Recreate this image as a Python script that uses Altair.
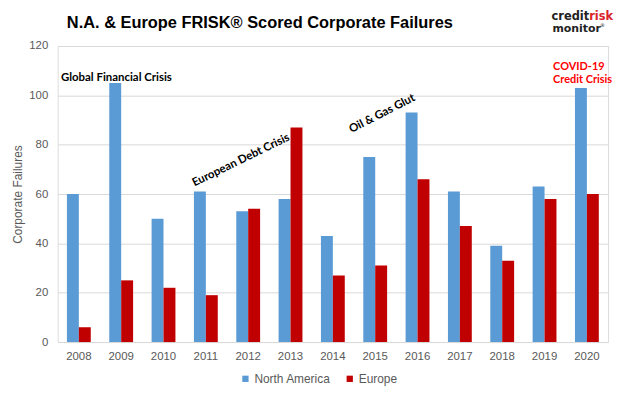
import altair as alt
import pandas as pd

years = [str(y) for y in range(2008, 2021)]
north_america = [60, 105, 50, 61, 53, 58, 43, 75, 93, 61, 39, 63, 103]
europe = [6, 25, 22, 19, 54, 87, 27, 31, 66, 47, 33, 58, 60]
series_names = ["North America", "Europe"]
series_colors = ["#5B9BD5", "#C00000"]
y_ticks = [0, 20, 40, 60, 80, 100, 120]

title_text = "N.A. & Europe FRISK® Scored Corporate Failures"
y_title = "Corporate Failures"

rows = []
for i, yr in enumerate(years):
    rows.append({"year": yr, "series": series_names[0], "value": north_america[i]})
    rows.append({"year": yr, "series": series_names[1], "value": europe[i]})
df = pd.DataFrame(rows)

x_enc = alt.X("year:N", sort=years, title=None,
              scale=alt.Scale(paddingInner=0.437, paddingOuter=0.2185),
              axis=alt.Axis(labelAngle=0, ticks=False, domain=False, labelPadding=9,
                            labelFontSize=11.5, labelColor="#595959",
                            labelFont="Liberation Sans"))
y_enc = alt.Y("value:Q", title=y_title,
              scale=alt.Scale(domain=[0, 120], nice=False, zero=True),
              axis=alt.Axis(values=y_ticks, ticks=False, domain=False, labelPadding=10,
                            gridColor="#D9D9D9", labelFontSize=11.5, labelColor="#595959",
                            labelFont="Liberation Sans", titleFont="Liberation Sans",
                            titleFontSize=12, titleFontWeight="normal", titleColor="#595959",
                            titlePadding=4))

bars = alt.Chart(df).mark_bar().encode(
    x=x_enc,
    xOffset=alt.XOffset("series:N", sort=series_names),
    y=y_enc,
    color=alt.Color("series:N", sort=series_names,
                    scale=alt.Scale(domain=series_names, range=series_colors),
                    legend=alt.Legend(title=None, orient="none", direction="horizontal",
                                      legendX=183, legendY=329, symbolType="square",
                                      symbolSize=40, symbolStrokeWidth=0, labelOffset=3,
                                      columnPadding=13, labelFontSize=12,
                                      labelColor="#595959", labelFont="Liberation Sans")),
)

# annotations
ann_df = pd.DataFrame({
    "label": ["Global Financial Crisis", "European Debt Crisis", "Oil & Gas Glut"],
    "year": ["2008", "2012", "2015"],
    "value": [106, 75, 91],
})
ann_font = "Lato"

gfc = alt.Chart(ann_df.iloc[[0]]).mark_text(
    align="left", baseline="alphabetic", dx=-18, fontSize=11.5, fontWeight="bold",
    font=ann_font, color="#000000"
).encode(x=alt.X("year:N", sort=years), y="value:Q", text="label:N")

edc = alt.Chart(ann_df.iloc[[1]]).mark_text(
    align="center", baseline="middle", dx=-8, angle=334, fontSize=11.5, fontWeight="bold",
    font=ann_font, color="#000000"
).encode(x=alt.X("year:N", sort=years), y="value:Q", text="label:N")

oil = alt.Chart(ann_df.iloc[[2]]).mark_text(
    align="center", baseline="middle", dx=8, angle=333, fontSize=11.5, fontWeight="bold",
    font=ann_font, color="#000000"
).encode(x=alt.X("year:N", sort=years), y="value:Q", text="label:N")

covid_df = pd.DataFrame({"label": ["COVID-19\nCredit Crisis"], "year": ["2020"], "value": [114]})
covid = alt.Chart(covid_df).mark_text(
    align="left", baseline="top", dx=-34, lineBreak="\n", lineHeight=13,
    fontSize=11, fontWeight="bold", font=ann_font, color="#FF0000"
).encode(x=alt.X("year:N", sort=years), y="value:Q", text="label:N")

# title as text
title_mark = alt.Chart(pd.DataFrame({"t": [title_text]})).mark_text(
    align="center", baseline="alphabetic", fontSize=16.5, fontWeight="bold",
    font="Liberation Sans", color="#000000"
).encode(x=alt.value(203.5), y=alt.value(-18.5), text="t:N")

# logo
logo_font = "DejaVu Sans"
logo1 = alt.Chart(pd.DataFrame({"t": ["credit"]})).mark_text(
    align="right", baseline="alphabetic", fontSize=11.5, fontWeight="bold", font=logo_font,
    color="#222222"
).encode(x=alt.value(535), y=alt.value(-25.7), text="t:N")
logo2 = alt.Chart(pd.DataFrame({"t": ["risk"]})).mark_text(
    align="left", baseline="alphabetic", fontSize=11.5, fontWeight="bold", font=logo_font,
    color="#D9232D"
).encode(x=alt.value(535), y=alt.value(-25.7), text="t:N")
logo3 = alt.Chart(pd.DataFrame({"t": ["monitor"]})).mark_text(
    align="left", baseline="alphabetic", fontSize=11, fontWeight="bold", font=logo_font,
    color="#222222"
).encode(x=alt.value(498), y=alt.value(-14.3), text="t:N")
logo4 = alt.Chart(pd.DataFrame({"t": ["®"]})).mark_text(
    align="left", baseline="alphabetic", fontSize=5, font=logo_font, color="#222222"
).encode(x=alt.value(546), y=alt.value(-19), text="t:N")

chart = alt.layer(bars, gfc, edc, oil, covid, title_mark, logo1, logo2, logo3, logo4).properties(
    width=554, height=298,
    padding={"left": 50, "top": 37, "right": 8, "bottom": 44},
    autosize=alt.AutoSizeParams(type="none"),
).configure_view(stroke=None).configure(background="white")

chart.save("out.html", embed_options={"renderer": "svg", "actions": False})
